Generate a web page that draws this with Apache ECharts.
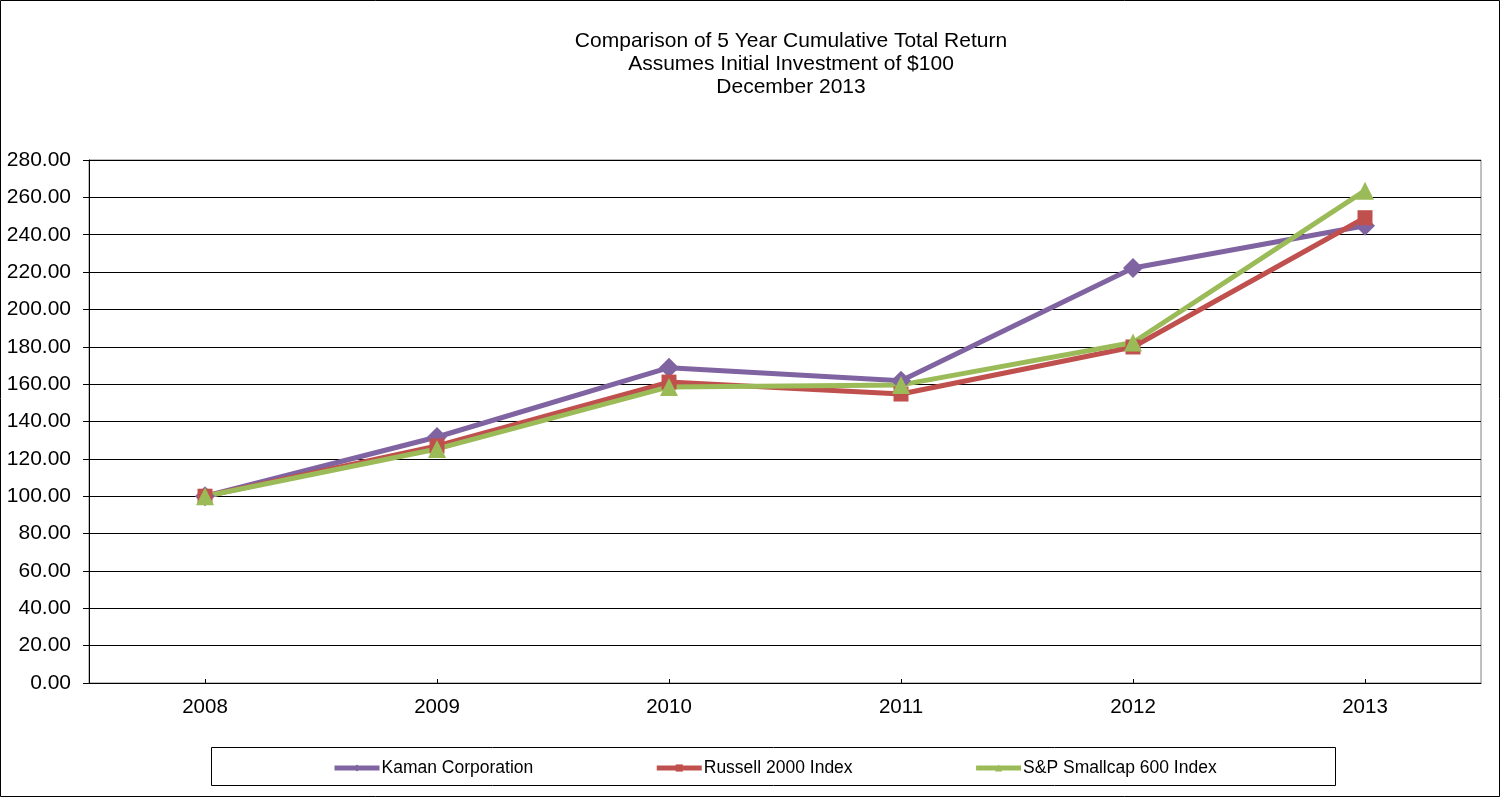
<!DOCTYPE html>
<html><head><meta charset="utf-8">
<script src="https://cdn.jsdelivr.net/npm/echarts@6/dist/echarts.min.js"></script>
<style>html,body{margin:0;padding:0;background:#fff}#c{width:1501px;height:798px}</style>
</head><body><div id="c"></div>
<script>
const categories = ['2008','2009','2010','2011','2012','2013'];
const kaman = [100.00, 131.7, 168.8, 161.8, 222.2, 244.8];
const russell = [100.00, 126.9, 161.1, 154.7, 179.9, 249.1];
const spSmall = [100.00, 125.3, 158.5, 159.6, 182.3, 263.6];
const titleLines = ['Comparison of 5 Year Cumulative Total Return','Assumes Initial Investment of $100','December 2013'];
const seriesNames = ['Kaman Corporation','Russell 2000 Index','S&P Smallcap 600 Index'];

const chart = echarts.init(document.getElementById('c'), null, {renderer:'canvas'});
const font = 'Liberation Sans, Arial, sans-serif';
function mk(name, data, color, symbol, size){
  return {name, type:'line', data, symbol, symbolSize:size, showSymbol:true,
    lineStyle:{color, width:5}, itemStyle:{color}, animation:false};
}
chart.setOption({
  animation:false,
  backgroundColor:'#fff',
  grid:{left:89, right:20, top:160, bottom:115, show:true, borderColor:'#808080', borderWidth:1},
  legend:{bottom:16, left:327, itemGap:121, itemWidth:45, itemHeight:9,
    lineStyle:{width:5},
    textStyle:{fontFamily:font, fontSize:17.5, color:'#000', padding:[0,0,0,-3]},
    data:seriesNames},
  xAxis:{type:'category', data:categories, boundaryGap:true,
    axisLine:{lineStyle:{color:'#000'}},
    axisTick:{show:true, alignWithLabel:true, inside:true, length:4, lineStyle:{color:'#000'}},
    axisLabel:{fontFamily:font, fontSize:20.5, color:'#000', margin:14}},
  yAxis:{type:'value', min:0, max:280, interval:20,
    axisLine:{show:true, lineStyle:{color:'#000'}}, axisTick:{show:true, length:6, lineStyle:{color:'#000'}},
    splitLine:{lineStyle:{color:'#000', width:1}},
    axisLabel:{fontFamily:font, fontSize:21, color:'#000', margin:18, formatter:v=>v.toFixed(2)}},
  graphic:[
    {type:'rect', shape:{x:0.5,y:0.5,width:1499,height:796}, style:{fill:'none', stroke:'#000', lineWidth:1}, silent:true},
    {type:'rect', shape:{x:211.5,y:747.5,width:1124,height:38}, style:{fill:'none', stroke:'#000', lineWidth:1}, silent:true, z:-1},
    {type:'text', x:791, y:64, silent:true, style:{text:titleLines.join('\n'), textAlign:'center', textVerticalAlign:'middle',
      font:'21px Liberation Sans, Arial, sans-serif', fill:'#000', lineHeight:23}}
  ],
  series:[
    mk(seriesNames[0], kaman, '#8064A2', 'diamond', 20),
    mk(seriesNames[1], russell, '#C0504D', 'rect', 15),
    mk(seriesNames[2], spSmall, '#9BBB59', 'triangle', 18)
  ]
});
</script></body></html>
